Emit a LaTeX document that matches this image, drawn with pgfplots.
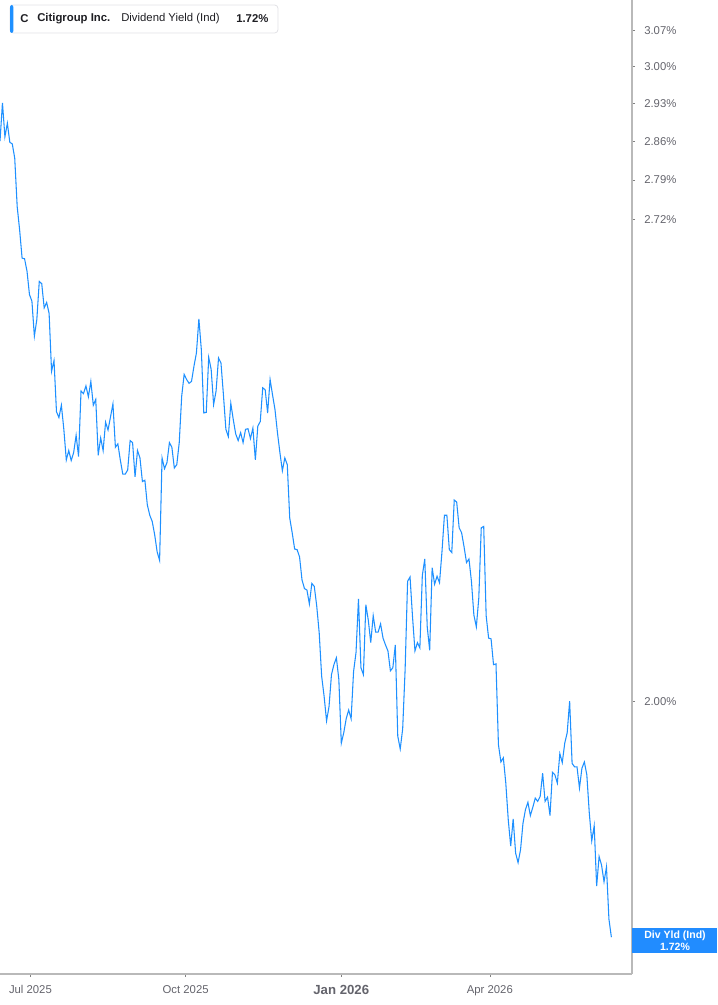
\documentclass[border=0pt]{standalone}
\usepackage{fontspec}
\setmainfont{Liberation Sans}
\usepackage{pgfplots}
\usepackage{pgfplotstable}
\pgfplotsset{compat=1.18}

\definecolor{lineblue}{RGB}{30,144,255}
\definecolor{boxblue}{RGB}{33,140,255}
\definecolor{axisgray}{RGB}{185,185,185}
\definecolor{ticktext}{RGB}{100,100,108}
\definecolor{headtext}{RGB}{30,30,35}
\definecolor{headborder}{RGB}{226,226,230}

% Citigroup dividend yield (%), one row per trading day, Jun 2025 - Jun 2026
\pgfplotstableread{
y
2.860
2.931
2.868
2.893
2.858
2.855
2.829
2.743
2.702
2.654
2.653
2.632
2.593
2.582
2.525
2.552
2.615
2.611
2.571
2.580
2.562
2.469
2.486
2.406
2.397
2.416
2.379
2.333
2.347
2.332
2.344
2.370
2.338
2.438
2.434
2.446
2.429
2.453
2.416
2.425
2.340
2.366
2.347
2.390
2.378
2.398
2.418
2.352
2.357
2.333
2.312
2.312
2.318
2.362
2.359
2.308
2.347
2.336
2.301
2.303
2.267
2.252
2.243
2.224
2.200
2.188
2.336
2.320
2.329
2.359
2.352
2.321
2.326
2.359
2.430
2.464
2.456
2.450
2.453
2.477
2.498
2.553
2.503
2.404
2.405
2.491
2.472
2.417
2.438
2.490
2.482
2.432
2.379
2.368
2.419
2.394
2.372
2.362
2.374
2.359
2.379
2.380
2.365
2.381
2.333
2.384
2.391
2.443
2.440
2.404
2.456
2.432
2.409
2.374
2.344
2.317
2.336
2.326
2.248
2.227
2.204
2.203
2.193
2.161
2.149
2.147
2.128
2.156
2.152
2.125
2.089
2.032
2.006
1.975
1.993
2.034
2.047
2.056
2.028
1.947
1.960
1.978
1.989
1.978
2.038
2.063
2.135
2.043
2.034
2.127
2.106
2.076
2.112
2.090
2.090
2.101
2.082
2.073
2.065
2.039
2.043
2.073
1.956
1.940
1.965
2.041
2.159
2.165
2.111
2.065
2.076
2.069
2.167
2.190
2.097
2.066
2.178
2.155
2.166
2.157
2.200
2.252
2.252
2.203
2.199
2.274
2.271
2.234
2.227
2.207
2.185
2.190
2.159
2.113
2.097
2.136
2.234
2.236
2.112
2.082
2.081
2.047
2.048
1.945
1.924
1.929
1.898
1.854
1.823
1.855
1.815
1.804
1.819
1.850
1.866
1.875
1.859
1.869
1.880
1.876
1.882
1.910
1.876
1.881
1.859
1.911
1.908
1.898
1.934
1.923
1.947
1.960
2.000
1.922
1.918
1.918
1.892
1.916
1.924
1.908
1.862
1.829
1.847
1.777
1.811
1.801
1.782
1.799
1.740
1.720
}\divyield

\begin{document}
\begin{tikzpicture}
\begin{axis}[
  at={(0pt,0pt)}, anchor=south west,
  scale only axis, width=474pt, height=730.5pt,
  xmin=0, xmax=257.4,
  ymode=log, ymin=1.68, ymax=3.13,
  axis x line*=bottom, axis y line*=right,
  axis line style={-, draw=axisgray, line width=0.9pt},
  tick align=outside, major tick length=2.25pt,
  tick style={draw=axisgray!70!black, line width=0.5pt},
  minor tick num=0, yminorticks=false, xminorticks=false,
  xtick={12.4,75.6,139.0,199.5},
  xticklabels={Jul 2025, Oct 2025, {\fontsize{9.9}{11}\selectfont\bfseries Jan 2026}, Apr 2026},
  ytick={2.00,2.72,2.79,2.86,2.93,3.00,3.07},
  yticklabels={2.00\%,2.72\%,2.79\%,2.86\%,2.93\%,3.00\%,3.07\%},
  ticklabel style={font=\fontsize{8.5}{10}\selectfont, text=ticktext},
  yticklabel style={anchor=west, inner sep=0pt, xshift=6.75pt},
  xticklabel style={anchor=north, inner sep=0pt, yshift=-6pt},
]
\addplot[lineblue, line width=0.8pt, mark=none] table[x expr=\coordindex, y=y] {\divyield};
\end{axis}
\pgfresetboundingbox
\path[use as bounding box] (0pt,-23.25pt) rectangle (537.75pt,730.5pt);
% header box
\draw[headborder, fill=white, line width=0.6pt, rounded corners=2.5pt] (7.5pt,705.75pt) rectangle (208.5pt,726.75pt);
\fill[lineblue, rounded corners=1.5pt] (7.5pt,705.75pt) rectangle (10pt,726.75pt);
\begin{scope}[every node/.style={anchor=west, inner sep=0pt, text=headtext, font=\fontsize{8.5}{10}\selectfont}]
\node at (15pt,716.25pt) {\bfseries C};
\node at (27.75pt,716.25pt) {\bfseries Citigroup Inc.};
\node at (90.75pt,716.25pt) {Dividend Yield (Ind)};
\node at (177pt,716.25pt) {\bfseries 1.72\%};
\end{scope}
% last value box
\fill[boxblue] (474pt,15.75pt) rectangle (537.75pt,34.5pt);
\node[text=white, align=center, inner sep=0pt, font=\fontsize{7.9}{8.8}\selectfont\bfseries] at (506.25pt,25.1pt) {Div Yld (Ind)\\1.72\%};
\end{tikzpicture}
\end{document}
